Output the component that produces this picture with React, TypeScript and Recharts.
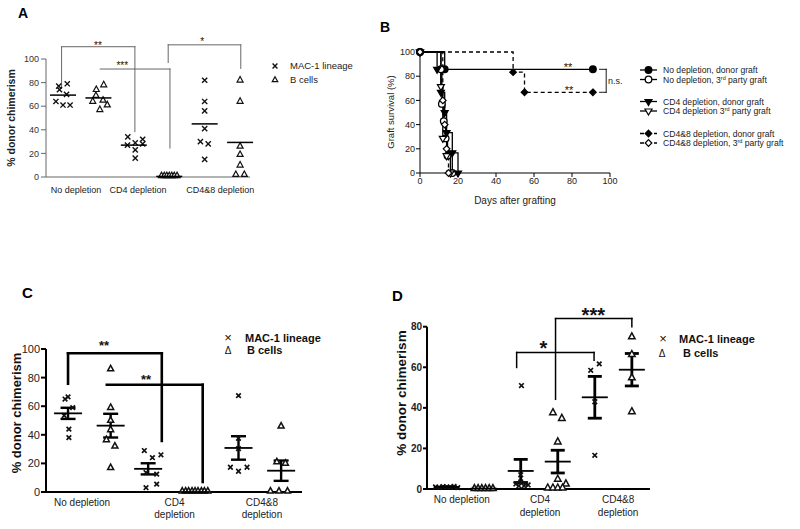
import React from 'react';
import { ScatterChart, Scatter, XAxis, YAxis, ReferenceLine, ErrorBar, LineChart, Line } from 'recharts';

const FONT = '"Liberation Sans", Arial, Helvetica, sans-serif';
const W = 800;
const H = 529;

// ---------------- Panel A ----------------
const aTickLabels = ['No depletion', 'CD4 depletion', 'CD4&8 depletion'];
const aTickPos = [1.37, 3.12, 5.44];
const aYTicks = [0, 20, 40, 60, 80, 100];
const aColPos = [1, 2, 3, 4, 5, 6];
const aMacNoDep = [77, 79, 74, 70, 64, 61, 61];
const aMacNoDepJit = [-0.12, 0.12, -0.1, 0.1, -0.2, 0, 0.2];
const aBNoDep = [78, 74, 69, 64, 65, 61, 57];
const aBNoDepJit = [0.15, -0.06, -0.07, -0.16, 0.13, 0.25, 0.04];
const aMacCd4 = [34, 29, 32, 27, 28, 23, 16];
const aMacCd4Jit = [-0.17, 0.04, 0.25, -0.18, 0.25, 0.04, 0.04];
const aBCd4 = [1, 1, 1, 1, 1, 1, 1];
const aBCd4Jit = [-0.22, -0.14, -0.07, 0, 0.07, 0.14, 0.22];
const aMacCd48 = [82, 64, 56, 41, 30, 28, 15];
const aMacCd48Jit = [0, 0, 0, 0, -0.12, 0.1, 0];
const aBCd48 = [82, 64, 26, 19, 10, 2, 2];
const aBCd48Jit = [0, 0, 0, 0, 0, -0.12, 0.12];
const aMeans = [69.4, 67, 27, 0.5, 45, 29.3];
const aBracket1: [number, number][] = [[0.96, 75], [0.96, 110.4], [3.03, 110.4], [3.03, 38.4]];
const aBracket2: [number, number][] = [[2.05, 91.5], [4.02, 91.5], [4.02, 24.5]];
const aBracket3: [number, number][] = [[3.97, 97], [3.97, 112], [6.02, 112], [6.02, 92]];

// ---------------- Panel B ----------------
const bXTicks = [0, 20, 40, 60, 80, 100];
const bYTicks = [0, 20, 40, 60, 80, 100];
const bNoDepDonorDays = [0, 13, 91];
const bNoDepDonorSurv = [100, 85.7, 85.7];
const bNoDep3rdDays = [0, 11, 11.5, 12.5, 13.5, 14.5, 17];
const bNoDep3rdSurv = [100, 85.7, 57.1, 42.9, 28.6, 14.3, 0];
const bCd4DonorDays = [0, 9, 11, 13, 14, 17, 20];
const bCd4DonorSurv = [100, 85.7, 66.7, 50, 33.3, 16.7, 0];
const bCd43rdDays = [0, 11, 12, 14, 16];
const bCd43rdSurv = [100, 71.4, 28.6, 14.3, 0];
const bCd48DonorDays = [0, 49, 55, 91];
const bCd48DonorSurv = [100, 83.3, 66.7, 66.7];
const bCd483rdDays = [0, 12, 13, 14, 15];
const bCd483rdSurv = [100, 60, 40, 20, 0];
const bNsBracket: [number, number][] = [[94.5, 85.7], [98, 85.7], [98, 66.7], [94.5, 66.7]];

// ---------------- Panel C ----------------
const cTickLabels = ['No depletion', 'CD4\ndepletion', 'CD4&8\ndepletion'];
const cTickPos = [1.33, 3.5, 5.55];
const cYTicks = [0, 20, 40, 60, 80, 100];
const cColPos = [1, 2, 2.88, 3.98, 5, 6];
const cMacNoDep = [65, 66.5, 59, 53.5, 44, 38];
const cMacNoDepJit = [-0.07, 0, 0.11, -0.09, 0.02, 0.02];
const cBNoDep = [86, 59, 50, 43.5, 36.5, 32, 17];
const cBNoDepJit = [0, 0, 0, 0, -0.1, 0.1, 0];
const cMacCd4 = [29, 24, 26, 13.6, 12.5, 5.5, 3];
const cMacCd4Jit = [-0.09, 0.1, 0.3, -0.05, 0.2, 0.2, -0.05];
const cBCd4 = [0.5, 0.5, 0.5, 0.5, 0.5, 0.5, 0.5, 0.5, 0.5];
const cBCd4Jit = [-0.3, -0.22, -0.15, -0.07, 0, 0.07, 0.15, 0.22, 0.3];
const cMacCd48 = [67.4, 37.6, 30.3, 17.3, 14.5, 17.3];
const cMacCd48Jit = [0, 0, 0, -0.19, 0, 0.2];
const cBCd48 = [46, 21, 20, 0.5, 0.5, 0.5];
const cBCd48Jit = [0, -0.1, 0.1, -0.25, -0.05, 0.15];
const cMeans = [55, 46.4, 16.2, 0, 30.8, 14.9];
const cSems = [3.9, 8.3, 3.9, 0, 8.2, 7.1];
const cBracket1: [number, number][] = [[1, 75.7], [1, 97], [3.2, 97], [3.2, 35.7]];
const cBracket2: [number, number][] = [[1.91, 75], [4.16, 75], [4.16, 7]];

// ---------------- Panel D ----------------
const dTickLabels = ['No depletion', 'CD4\ndepletion', 'CD4&8\ndepletion'];
const dTickPos = [1.41, 3.52, 5.63];
const dYTicks = [0, 20, 40, 60, 80];
const dColPos = [1, 2, 3, 4, 5, 6];
const dMacNoDep = [1, 0.8, 1.2, 1, 0.9, 1.3, 0.7];
const dMacNoDepJit = [-0.3, -0.2, -0.1, 0, 0.1, 0.2, 0.3];
const dBNoDep = [0.2, 0.2, 0.2, 0.2, 0.2, 0.2];
const dBNoDepJit = [-0.25, -0.15, -0.05, 0.05, 0.15, 0.25];
const dMacCd4 = [51, 7, 3.5, 2.5, 2.5, 1.5, 1.5, 2];
const dMacCd4Jit = [0.02, 0, 0, -0.13, 0.13, -0.05, 0.09, 0.2];
const dBCd4 = [37.6, 34.8, 23.2, 4.8, 2.5, 0.5, 0.5, 0.5, 0.5];
const dBCd4Jit = [-0.13, 0.11, 0, 0, 0.22, -0.27, -0.13, 0, 0.13];
const dMacCd48 = [58.5, 61.7, 43, 16.6];
const dMacCd48Jit = [-0.11, 0.12, 0, 0];
const dBCd48 = [75, 66.3, 54.8, 38.1];
const dBCd48Jit = [0, 0, 0, 0];
const dMeans = [1, 0.2, 8.9, 13.5, 45.2, 58.8];
const dSems = [0.2, 0.1, 5.7, 5.6, 10.3, 8];
const dBracket1: [number, number][] = [[2.89, 59.9], [2.89, 67.3], [4.98, 67.3], [4.98, 63.5]];
const dBracket2: [number, number][] = [[3.94, 44.2], [3.94, 84], [6.0, 84], [6.0, 80]];

// ---------------- helpers ----------------
const pts = (vals: number[], jit: number[], pos: number) => vals.map((v, i) => ({ x: pos + jit[i], y: v }));
const zip = (xs: number[], ys: number[]) => xs.map((x, i) => ({ x, y: ys[i] }));

const xPath = (cx: number, cy: number, r: number) =>
  `M${cx - r},${cy - r}L${cx + r},${cy + r}M${cx - r},${cy + r}L${cx + r},${cy - r}`;
const triPath = (cx: number, cy: number, w: number, h: number, down = false) =>
  down
    ? `M${cx},${cy + (2 * h) / 3}L${cx + w / 2},${cy - h / 3}L${cx - w / 2},${cy - h / 3}Z`
    : `M${cx},${cy - (2 * h) / 3}L${cx + w / 2},${cy + h / 3}L${cx - w / 2},${cy + h / 3}Z`;
const diaPath = (cx: number, cy: number, r: number) => `M${cx},${cy - r}L${cx + r},${cy}L${cx},${cy + r}L${cx - r},${cy}Z`;

const xShape = (r: number, sw: number) => (p: any) => (
  <path d={xPath(p.cx, p.cy, r)} stroke="#111" strokeWidth={sw} fill="none" />
);
const triShape = (w: number, h: number, sw: number) => (p: any) => (
  <path d={triPath(p.cx, p.cy, w, h)} stroke="#111" strokeWidth={sw} fill="#fff" strokeLinejoin="miter" />
);
const meanShape = (half: number, sw: number) => (p: any) => (
  <line x1={p.cx - half} x2={p.cx + half} y1={p.cy} y2={p.cy} stroke="#000" strokeWidth={sw} />
);

const bracket = (b: [number, number][], stroke: string, sw: number, key: string) =>
  b.slice(1).map((p, i) => (
    <ReferenceLine
      key={`${key}${i}`}
      segment={[{ x: b[i][0], y: b[i][1] }, { x: p[0], y: p[1] }]}
      stroke={stroke}
      strokeWidth={sw}
      strokeLinecap="square"
      ifOverflow="visible"
    />
  ));

const makeXTick = (labels: string[], positions: number[], fontSize: number, lineH: number, weight: string) => (props: any) => {
  const { x, y, payload } = props;
  const i = positions.findIndex((p) => Math.abs(p - payload.value) < 1e-6);
  const lines = i >= 0 ? labels[i].split('\n') : [];
  return (
    <text x={x} y={y} textAnchor="middle" fontSize={fontSize} fontFamily={FONT} fill="#222" fontWeight={weight}>
      {lines.map((l, k) => (
        <tspan key={k} x={x} dy={k === 0 ? fontSize * 0.8 : lineH}>
          {l}
        </tspan>
      ))}
    </text>
  );
};

const abs: React.CSSProperties = { position: 'absolute', left: 0, top: 0 };

// ---------------- Panel A chart ----------------
function PanelA() {
  const shapes = [xShape(2.6, 1.4), triShape(6, 5.5, 1.2)];
  const cols = [
    pts(aMacNoDep, aMacNoDepJit, aColPos[0]),
    pts(aBNoDep, aBNoDepJit, aColPos[1]),
    pts(aMacCd4, aMacCd4Jit, aColPos[2]),
    pts(aBCd4, aBCd4Jit, aColPos[3]),
    pts(aMacCd48, aMacCd48Jit, aColPos[4]),
    pts(aBCd48, aBCd48Jit, aColPos[5]),
  ];
  const tickStyle = { fontSize: 9, fill: '#333', fontFamily: FONT };
  return (
    <div style={abs}>
      <ScatterChart width={W} height={H} margin={{ top: 59, right: 550, bottom: 322, left: 6 }}>
        <XAxis
          type="number"
          dataKey="x"
          domain={[0.52, 6.28]}
          ticks={aTickPos}
          tickLine={false}
          tickSize={0}
          tickMargin={9}
          height={30}
          stroke="#666"
          tick={makeXTick(aTickLabels, aTickPos, 9, 10, 'normal')}
          interval={0}
        />
        <YAxis
          type="number"
          dataKey="y"
          domain={[0, 100]}
          ticks={aYTicks}
          width={40}
          stroke="#666"
          tickSize={5}
          tickMargin={2}
          tick={tickStyle}
          interval={0}
        />
        {bracket(aBracket1, '#666', 1, 'a1')}
        {bracket(aBracket2, '#666', 1, 'a2')}
        {bracket(aBracket3, '#666', 1, 'a3')}
        {cols.map((d, i) => (
          <Scatter key={i} data={d} shape={shapes[i % 2]} isAnimationActive={false} />
        ))}
        <Scatter
          data={aColPos.map((x, i) => ({ x, y: aMeans[i] }))}
          shape={meanShape(13, 1.5)}
          isAnimationActive={false}
        />
      </ScatterChart>
    </div>
  );
}

// ---------------- Panel B chart ----------------
type Kind = 'circle' | 'tri' | 'dia';
const bMarker = (kind: Kind, filled: boolean, cx: number, cy: number, key?: any) => {
  const fill = filled ? '#000' : '#fff';
  if (kind === 'circle') return <circle key={key} cx={cx} cy={cy} r={3.3} fill={fill} stroke="#000" strokeWidth={1.3} />;
  if (kind === 'tri') return <path key={key} d={triPath(cx, cy, 7, 6, true)} fill={fill} stroke="#000" strokeWidth={1.2} />;
  return <path key={key} d={diaPath(cx, cy, 3.3)} fill={fill} stroke="#000" strokeWidth={1.2} />;
};

const bSeries = [
  { name: 'noDepDonor', data: zip(bNoDepDonorDays, bNoDepDonorSurv), kind: 'circle' as Kind, filled: true, dash: false },
  { name: 'noDep3rd', data: zip(bNoDep3rdDays, bNoDep3rdSurv), kind: 'circle' as Kind, filled: false, dash: false },
  { name: 'cd4Donor', data: zip(bCd4DonorDays, bCd4DonorSurv), kind: 'tri' as Kind, filled: true, dash: false },
  { name: 'cd43rd', data: zip(bCd43rdDays, bCd43rdSurv), kind: 'tri' as Kind, filled: false, dash: false },
  { name: 'cd48Donor', data: zip(bCd48DonorDays, bCd48DonorSurv), kind: 'dia' as Kind, filled: true, dash: true },
  { name: 'cd483rd', data: zip(bCd483rdDays, bCd483rdSurv), kind: 'dia' as Kind, filled: false, dash: true },
];

function PanelB() {
  const tickStyle = { fontSize: 9, fill: '#222', fontFamily: FONT };
  return (
    <div style={abs}>
      <LineChart width={W} height={H} margin={{ top: 52, right: 190, bottom: 326, left: 380 }}>
        <XAxis
          type="number"
          dataKey="x"
          domain={[0, 100]}
          ticks={bXTicks}
          height={30}
          stroke="#000"
          tickSize={4}
          tickMargin={1}
          tick={tickStyle}
          interval={0}
        />
        <YAxis
          type="number"
          dataKey="y"
          domain={[0, 100]}
          ticks={bYTicks}
          width={40}
          stroke="#000"
          tickSize={4}
          tickMargin={1}
          tick={tickStyle}
          interval={0}
        />
        {bracket(bNsBracket, '#000', 0.9, 'bns')}
        {bSeries.map((s) => (
          <Line
            key={s.name}
            data={s.data}
            dataKey="y"
            type="stepAfter"
            stroke="#000"
            strokeWidth={1.3}
            strokeDasharray={s.dash ? '4 3' : undefined}
            isAnimationActive={false}
            dot={(p: any) => bMarker(s.kind, s.filled, p.cx, p.cy, `${s.name}-${p.index}`)}
            activeDot={false}
          />
        ))}
      </LineChart>
    </div>
  );
}

// ---------------- Panel C chart ----------------
function PanelC() {
  const shapes = [xShape(2.3, 1.7), triShape(6, 5.5, 1.5)];
  const cols = [
    pts(cMacNoDep, cMacNoDepJit, cColPos[0]),
    pts(cBNoDep, cBNoDepJit, cColPos[1]),
    pts(cMacCd4, cMacCd4Jit, cColPos[2]),
    pts(cBCd4, cBCd4Jit, cColPos[3]),
    pts(cMacCd48, cMacCd48Jit, cColPos[4]),
    pts(cBCd48, cBCd48Jit, cColPos[5]),
  ];
  const tickStyle = { fontSize: 11, fill: '#222', fontFamily: FONT };
  return (
    <div style={abs}>
      <ScatterChart width={W} height={H} margin={{ top: 349, right: 498, bottom: 7, left: 6 }}>
        <XAxis
          type="number"
          dataKey="x"
          domain={[0.483, 6.49]}
          ticks={cTickPos}
          tickLine={false}
          tickSize={0}
          tickMargin={6}
          height={30}
          stroke="#000"
          strokeWidth={2}
          tick={makeXTick(cTickLabels, cTickPos, 10, 12, 'normal')}
          interval={0}
        />
        <YAxis
          type="number"
          dataKey="y"
          domain={[0, 100]}
          ticks={cYTicks}
          width={40}
          stroke="#000"
          strokeWidth={2}
          tickSize={5}
          tickMargin={1}
          tick={tickStyle}
          interval={0}
        />
        {bracket(cBracket1, '#000', 2.6, 'c1')}
        {bracket(cBracket2, '#000', 2.6, 'c2')}
        {cols.map((d, i) => (
          <Scatter key={i} data={d} shape={shapes[i % 2]} isAnimationActive={false} />
        ))}
        <Scatter
          data={cColPos.map((x, i) => ({ x, y: cMeans[i], e: cSems[i] }))}
          shape={meanShape(14, 1.8)}
          isAnimationActive={false}
        >
          <ErrorBar dataKey="e" direction="y" width={7.5} stroke="#000" strokeWidth={2.4} />
        </Scatter>
      </ScatterChart>
    </div>
  );
}

// ---------------- Panel D chart ----------------
function PanelD() {
  const shapes = [xShape(2.3, 1.7), triShape(6.5, 6, 1.5)];
  const cols = [
    pts(dMacNoDep, dMacNoDepJit, dColPos[0]),
    pts(dBNoDep, dBNoDepJit, dColPos[1]),
    pts(dMacCd4, dMacCd4Jit, dColPos[2]),
    pts(dBCd4, dBCd4Jit, dColPos[3]),
    pts(dMacCd48, dMacCd48Jit, dColPos[4]),
    pts(dBCd48, dBCd48Jit, dColPos[5]),
  ];
  const tickStyle = { fontSize: 10, fill: '#222', fontFamily: FONT, fontWeight: 'bold' };
  return (
    <div style={abs}>
      <ScatterChart width={W} height={H} margin={{ top: 326.7, right: 150, bottom: 10, left: 387 }}>
        <XAxis
          type="number"
          dataKey="x"
          domain={[0.47, 6.49]}
          ticks={dTickPos}
          tickLine={false}
          tickSize={0}
          tickMargin={6}
          height={30}
          stroke="#000"
          strokeWidth={2}
          tick={makeXTick(dTickLabels, dTickPos, 10, 13.4, 'normal')}
          interval={0}
        />
        <YAxis
          type="number"
          dataKey="y"
          domain={[0, 80]}
          ticks={dYTicks}
          width={40}
          stroke="#000"
          strokeWidth={2}
          tickSize={4}
          tickMargin={1}
          tick={tickStyle}
          interval={0}
        />
        {bracket(dBracket1, '#000', 1.5, 'd1')}
        {bracket(dBracket2, '#000', 1.5, 'd2')}
        {cols.map((d, i) => (
          <Scatter key={i} data={d} shape={shapes[i % 2]} isAnimationActive={false} />
        ))}
        <Scatter
          data={dColPos.map((x, i) => ({ x, y: dMeans[i], e: dSems[i] }))}
          shape={meanShape(13, 1.8)}
          isAnimationActive={false}
        >
          <ErrorBar dataKey="e" direction="y" width={7} stroke="#000" strokeWidth={2.8} />
        </Scatter>
      </ScatterChart>
    </div>
  );
}

// ---------------- Overlay texts ----------------
const bLegendRows = [
  { y: 70, kind: 'circle' as Kind, filled: true, dash: false, pre: 'No depletion, donor graft', sup: '', post: '' },
  { y: 79.5, kind: 'circle' as Kind, filled: false, dash: false, pre: 'No depletion, 3', sup: 'rd', post: ' party graft' },
  { y: 101.5, kind: 'tri' as Kind, filled: true, dash: false, pre: 'CD4 depletion, donor graft', sup: '', post: '' },
  { y: 111, kind: 'tri' as Kind, filled: false, dash: false, pre: 'CD4 depletion 3', sup: 'rd', post: ' party graft' },
  { y: 133.5, kind: 'dia' as Kind, filled: true, dash: true, pre: 'CD4&8 depletion, donor graft', sup: '', post: '' },
  { y: 143, kind: 'dia' as Kind, filled: false, dash: true, pre: 'CD4&8 depletion, 3', sup: 'rd', post: ' party graft' },
];

function Overlay() {
  const star = (x: number, cy: number, fs: number, s: string, bold = false) => (
    <text x={x} y={cy + fs * 0.59} fontSize={fs} textAnchor="middle" fontFamily={FONT} fontWeight={bold ? 'bold' : 'normal'} fill="#111">
      {s}
    </text>
  );
  return (
    <svg width={W} height={H} style={{ ...abs, pointerEvents: 'none' }} fontFamily={FONT}>
      {/* Titles */}
      <text x={18} y={18} fontSize={14} fontWeight="bold">A</text>
      <text x={380} y={32} fontSize={14} fontWeight="bold">B</text>
      <text x={22} y={298} fontSize={15} fontWeight="bold">C</text>
      <text x={392} y={301} fontSize={15} fontWeight="bold">D</text>

      {/* Y axis labels */}
      <text transform="translate(14.5,118) rotate(-90)" textAnchor="middle" fontSize={10.5} fontWeight="bold" fill="#222">% donor chimerism</text>
      <text transform="translate(393.5,112) rotate(-90)" textAnchor="middle" fontSize={9.5} fill="#222">Graft survival (%)</text>
      <text transform="translate(21.4,413) rotate(-90)" textAnchor="middle" fontSize={13} fontWeight="bold" fill="#111">% donor chimerism</text>
      <text transform="translate(405.9,393) rotate(-90)" textAnchor="middle" fontSize={13.5} fontWeight="bold" fill="#111">% donor chimerism</text>

      {/* B x label */}
      <text x={515} y={204} textAnchor="middle" fontSize={10} fill="#222">Days after grafting</text>

      {/* Panel A legend */}
      <path d={xPath(275, 66, 2.4)} stroke="#111" strokeWidth={1.4} />
      <text x={290} y={69.4} fontSize={9.5} fill="#222">MAC-1 lineage</text>
      <path d={triPath(275, 80, 5.5, 5)} stroke="#111" strokeWidth={1.2} fill="#fff" />
      <text x={290} y={83.4} fontSize={9.5} fill="#222">B cells</text>

      {/* Panel B legend */}
      {bLegendRows.map((r, i) => (
        <g key={i}>
          <line x1={640} x2={657} y1={r.y} y2={r.y} stroke="#000" strokeWidth={1.3} strokeDasharray={r.dash ? '4 3' : undefined} />
          {bMarker(r.kind, r.filled, 648.5, r.y)}
          <text x={663} y={r.y + 3} fontSize={8.6} fill="#222">
            {r.pre}
            {r.sup ? (
              <>
                <tspan dy={-3} fontSize={5.5}>{r.sup}</tspan>
                <tspan dy={3}>{r.post}</tspan>
              </>
            ) : null}
          </text>
        </g>
      ))}
      <text x={608} y={84} fontSize={9} fill="#222">n.s.</text>

      {/* Panel C legend */}
      <text x={228} y={342} textAnchor="middle" fontSize={13} fill="#111">×</text>
      <text x={245} y={342} fontSize={11} fontWeight="bold" fill="#111">MAC-1 lineage</text>
      <text x={228} y={353.5} textAnchor="middle" fontSize={10} fill="#111">Δ</text>
      <text x={247} y={353.5} fontSize={11} fontWeight="bold" fill="#111">B cells</text>

      {/* Panel D legend */}
      <text x={663} y={342.5} textAnchor="middle" fontSize={13} fill="#111">×</text>
      <text x={679} y={342.5} fontSize={11} fontWeight="bold" fill="#111">MAC-1 lineage</text>
      <text x={662} y={356.7} textAnchor="middle" fontSize={10} fill="#111">Δ</text>
      <text x={683} y={356.7} fontSize={11} fontWeight="bold" fill="#111">B cells</text>

      {/* Significance marks */}
      {star(98, 43.3, 10, '**')}
      {star(122.3, 63.3, 10, '***')}
      {star(202.3, 39.3, 10, '*')}
      {star(568, 65, 11, '**')}
      {star(569, 88, 11, '**')}
      {star(104, 342.7, 13, '**', true)}
      {star(146, 376, 13, '**', true)}
      {star(543.3, 343.3, 20, '*', true)}
      {star(593.3, 310, 20, '***', true)}
    </svg>
  );
}

export default function App() {
  return (
    <div style={{ position: 'absolute', left: 0, top: 0, width: W, height: H, background: '#fff', overflow: 'hidden' }}>
      <PanelA />
      <PanelB />
      <PanelC />
      <PanelD />
      <Overlay />
    </div>
  );
}
